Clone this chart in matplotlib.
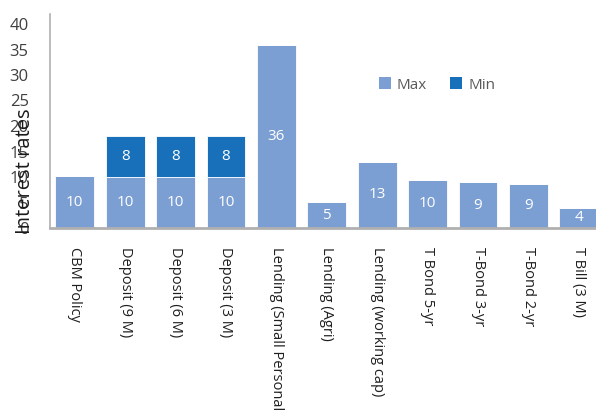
import matplotlib
matplotlib.use("Agg")
import matplotlib.pyplot as plt
import numpy as np

categories = ["CBM Policy", "Deposit (9 M)", "Deposit (6 M)", "Deposit (3 M)",
              "Lending (Small Personal", "Lending (Agri)", "Lending (working cap)",
              "T Bond 5-yr", "T-Bond 3-yr", "T-Bond 2-yr", "T Bill (3 M)"]
max_values = [10.1, 10, 10, 10, 35.9, 5.0, 13.0, 9.5, 9.0, 8.7, 4.0]
min_values = [0, 8, 8, 8, 0, 0, 0, 0, 0, 0, 0]
y_ticks = [0, 5, 10, 15, 20, 25, 30, 35, 40]

plt.rcParams['font.family'] = ['Open Sans', 'DejaVu Sans']

W, H = 596, 411
fig = plt.figure(figsize=(W / 100, H / 100), dpi=100)
left, right, bottom_px, top_px = 49.5, 596, 228, 13.8
ax = fig.add_axes([left / W, 1 - bottom_px / H, (right - left) / W, (bottom_px - top_px) / H])

light = '#7b9ed3'
dark = '#1870bb'
x = np.arange(len(categories))
bw = 0.77
b1 = ax.bar(x, max_values, bw, color=light, label='Max', edgecolor='white', linewidth=0.6)
b2 = ax.bar(x, min_values, bw, bottom=max_values, color=dark, label='Min', edgecolor='white', linewidth=0.6)

for i, v in enumerate(max_values):
    ax.text(x[i], v / 2, f"{round(v):.0f}", ha='center', va='center', color='white', fontsize=11)
for i, v in enumerate(min_values):
    if v > 0:
        ax.text(x[i], max_values[i] + v / 2, f"{round(v):.0f}", ha='center', va='center', color='white', fontsize=11)

ax.set_xlim(-0.5, 10.34)
ax.set_ylim(0, 42)
ax.set_yticks(y_ticks)
ax.set_yticklabels([str(t) for t in y_ticks], fontsize=12, color='#404040')
ax.set_xticks(x)
ax.set_xticklabels(categories, rotation=-90, ha='center', va='top', fontsize=10.5, color='#1f1f1f')
ax.tick_params(axis='both', length=0)
ax.tick_params(axis='y', pad=15)
ax.tick_params(axis='x', pad=14)

for s in ['top', 'right']:
    ax.spines[s].set_visible(False)
ax.spines['left'].set_color('#b0b0b0')
ax.spines['left'].set_linewidth(1.2)
ax.spines['bottom'].set_color('#b0b0b0')
ax.spines['bottom'].set_linewidth(2)

fig.text(25 / W, 1 - 171 / H, 'Interest rates', rotation=90, ha='center', va='center',
         fontsize=14.5, color='#1a1a1a')

leg = fig.legend(handles=[b1, b2], labels=['Max', 'Min'], loc='center',
                 bbox_to_anchor=(437 / W, 1 - 85 / H), ncol=2, frameon=False,
                 fontsize=11, handlelength=0.8, handleheight=0.8, handletextpad=0.4,
                 columnspacing=1.5, labelcolor='#595959')
for p in leg.get_patches():
    p.set_edgecolor('none')

fig.savefig('out.png', dpi=100)
